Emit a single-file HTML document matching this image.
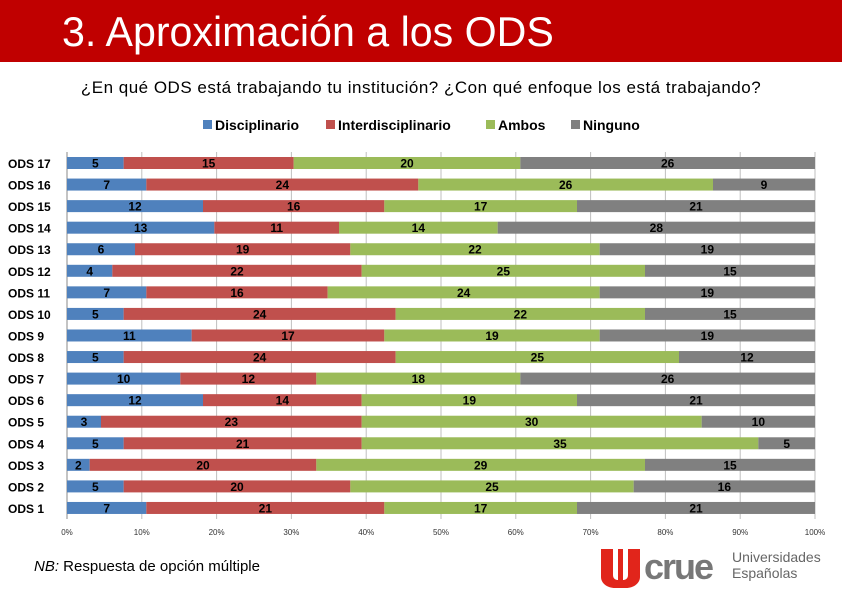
<!DOCTYPE html>
<html><head><meta charset="utf-8"><style>
body{margin:0;width:842px;height:596px;background:#fff;overflow:hidden;font-family:"Liberation Sans",sans-serif;}
#hdr{position:absolute;left:0;top:0;width:842px;height:62px;background:#c00000;}
#hdr span{position:absolute;left:62px;top:8px;color:#fff;font-size:42px;transform:scaleX(0.98);transform-origin:left;}
#q{position:absolute;left:0;width:842px;top:78px;text-align:center;font-size:17px;color:#000;letter-spacing:0.5px;}
#nb{position:absolute;left:34px;top:558px;font-size:15px;}
</style></head><body>
<div id="hdr"><span>3. Aproximación a los ODS</span></div>
<div id="q">¿En qué ODS está trabajando tu institución? ¿Con qué enfoque los está trabajando?</div>
<svg id="chart" width="842" height="596" style="position:absolute;left:0;top:0"></svg>
<div id="nb"><i>NB:</i> Respuesta de opción múltiple</div>
<svg width="240" height="50" style="position:absolute;left:598px;top:544px">
<path d="M3 5h12v26c0 4 3 5 5 5v-31h5v31c2 0 5-1 5-5V5h12v28c0 6-6 11-14 11h-11C9 44 3 39 3 33z" fill="#e1251b"/>
<text x="46" y="35" font-family="Liberation Sans" font-size="36" font-weight="bold" fill="#777" letter-spacing="-2">crue</text>
<text x="134" y="18" font-family="Liberation Sans" font-size="14" fill="#666">Universidades</text>
<text x="134" y="34" font-family="Liberation Sans" font-size="14" fill="#666">Españolas</text>
</svg>
<script>
const categories=["ODS 17","ODS 16","ODS 15","ODS 14","ODS 13","ODS 12","ODS 11","ODS 10","ODS 9","ODS 8","ODS 7","ODS 6","ODS 5","ODS 4","ODS 3","ODS 2","ODS 1"];
const disciplinario=[5,7,12,13,6,4,7,5,11,5,10,12,3,5,2,5,7];
const interdisciplinario=[15,24,16,11,19,22,16,24,17,24,12,14,23,21,20,20,21];
const ambos=[20,26,17,14,22,25,24,22,19,25,18,19,30,35,29,25,17];
const ninguno=[26,9,21,28,19,15,19,15,19,12,26,21,10,5,15,16,21];
const seriesNames=["Disciplinario","Interdisciplinario","Ambos","Ninguno"];
const tickLabels=["0%","10%","20%","30%","40%","50%","60%","70%","80%","90%","100%"];
const colors=["#4f81bd","#c0504d","#9bbb59","#808080"];
const svg=document.getElementById('chart');const NS="http://www.w3.org/2000/svg";
const X0=67,X1=815,Y0=163,STEP=21.56,BH=12;
const xs=p=>X0+(X1-X0)*p;const ys=i=>Y0+i*STEP;
function mk(t,a){const e=document.createElementNS(NS,t);for(const k in a)e.setAttribute(k,a[k]);svg.appendChild(e);return e;}
tickLabels.forEach((t,i)=>{const x=xs(i/10);
 const g=mk('line',{x1:x,x2:x,y1:152,y2:519,stroke:'#bfbfbf','stroke-width':1});
 
 
 const tx=mk('text',{x:x,y:535,'text-anchor':'middle','font-size':8,fill:'#333'});tx.textContent=t;
 
 });
mk('line',{x1:X0,x2:X0,y1:152,y2:519,stroke:'#888'});
const all=[disciplinario,interdisciplinario,ambos,ninguno];
categories.forEach((c,i)=>{const y=ys(i);
 const l=mk('text',{x:8,y:y+5,'font-size':12,'font-weight':'bold',fill:'#000'});l.textContent=c;
 
 
 const tot=all.reduce((s,a)=>s+a[i],0);let cum=0;
 all.forEach((a,k)=>{const v=a[i];const xa=xs(cum/tot),xb=xs((cum+v)/tot);cum+=v;
  const r=mk('rect',{x:xa,y:y-BH/2,width:xb-xa,height:BH,fill:colors[k]});
  
  
  const t=mk('text',{x:(xa+xb)/2,y:y+4.5,'text-anchor':'middle','font-size':12,'font-weight':'bold',fill:'#000'});t.textContent=v;
  
  });
});
let lx=[203,326,486,571];
seriesNames.forEach((n,k)=>{const r=mk('rect',{x:lx[k],y:120,width:9,height:9,fill:colors[k]});
 
 
 const t=mk('text',{x:lx[k]+12,y:130,'font-size':14,'font-weight':'bold',fill:'#000'});t.textContent=n;
 
 });
</script>
</body></html>
